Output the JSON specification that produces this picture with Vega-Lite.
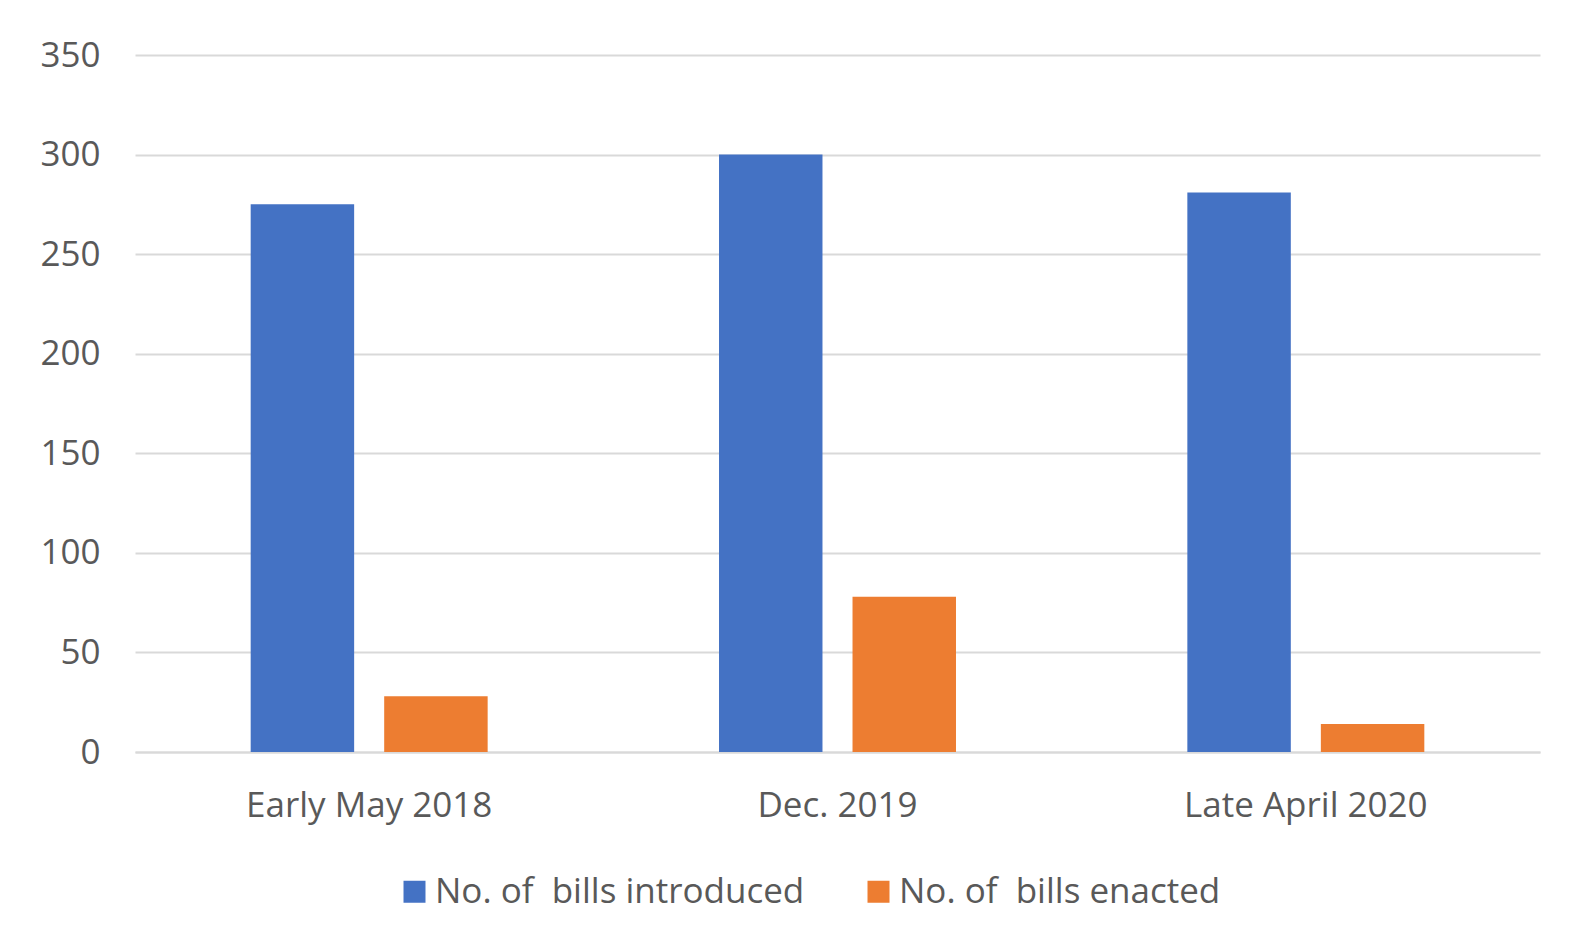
{
  "$schema": "https://vega.github.io/schema/vega-lite/v6.json",
  "autosize": {"type": "none"},
  "width": 1405,
  "height": 697,
  "padding": {"left": 135, "top": 55, "right": 31, "bottom": 198},
  "background": "white",
  "data": {
    "values": [
      {"period": "Early May 2018", "series": "No. of\u00a0 bills introduced", "bills": 275},
      {"period": "Early May 2018", "series": "No. of\u00a0 bills enacted", "bills": 28},
      {"period": "Dec. 2019", "series": "No. of\u00a0 bills introduced", "bills": 300},
      {"period": "Dec. 2019", "series": "No. of\u00a0 bills enacted", "bills": 78},
      {"period": "Late April 2020", "series": "No. of\u00a0 bills introduced", "bills": 281},
      {"period": "Late April 2020", "series": "No. of\u00a0 bills enacted", "bills": 14}
    ]
  },
  "mark": {"type": "bar"},
  "encoding": {
    "x": {
      "field": "period",
      "type": "nominal",
      "sort": ["Early May 2018", "Dec. 2019", "Late April 2020"],
      "scale": {"paddingInner": 0.494, "paddingOuter": 0.247},
      "axis": {
        "title": null,
        "labelAngle": 0,
        "ticks": false,
        "domain": true,
        "domainColor": "#d9d9d9",
        "domainWidth": 2,
        "labelPadding": 36,
        "labelLimit": 0,
        "labelFont": "Open Sans",
        "labelFontSize": 35,
        "labelColor": "#595959"
      }
    },
    "xOffset": {
      "field": "series",
      "type": "nominal",
      "sort": ["No. of\u00a0 bills introduced", "No. of\u00a0 bills enacted"],
      "scale": {"paddingInner": 0.225, "paddingOuter": 0}
    },
    "y": {
      "field": "bills",
      "type": "quantitative",
      "scale": {"domain": [0, 350], "nice": false},
      "axis": {
        "title": null,
        "values": [0, 50, 100, 150, 200, 250, 300, 350],
        "ticks": false,
        "domain": false,
        "grid": true,
        "gridColor": "#d9d9d9",
        "gridWidth": 2,
        "labelPadding": 35,
        "labelFont": "Open Sans",
        "labelFontSize": 35,
        "labelColor": "#595959"
      }
    },
    "color": {
      "field": "series",
      "type": "nominal",
      "sort": ["No. of\u00a0 bills introduced", "No. of\u00a0 bills enacted"],
      "scale": {"range": ["#4472C4", "#ED7D31"]},
      "legend": {
        "title": null,
        "orient": "none",
        "legendX": 262,
        "legendY": 819,
        "direction": "horizontal",
        "symbolType": "square",
        "symbolSize": 484,
        "symbolStrokeWidth": 0,
        "symbolOpacity": 1,
        "labelFont": "Open Sans",
        "labelFontSize": 35,
        "labelLimit": 0,
        "labelColor": "#595959",
        "labelOffset": 3,
        "columnPadding": 56
      }
    }
  },
  "config": {
    "view": {"stroke": null}
  }
}
